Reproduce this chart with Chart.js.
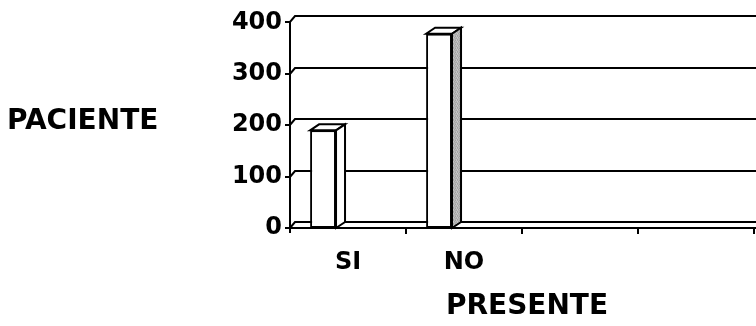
<!DOCTYPE html>
<html>
<head>
<meta charset="utf-8">
<script src="https://cdn.jsdelivr.net/npm/chart.js@4/dist/chart.umd.min.js"></script>
<style>
  html, body { margin: 0; padding: 0; background: #ffffff; }
  #wrap { width: 756px; height: 326px; position: relative; }
</style>
</head>
<body>
<div id="wrap"><canvas id="c" width="756" height="326"></canvas></div>
<script>
// Categories along the floor, the patient counts and the value axis ticks
const categories = ['SI', 'NO', '', ''];
const pacientes = [190, 378, null, null];
const serieVacia = [null, null, null, null];
const yTicks = [0, 100, 200, 300, 400];
const yTitle = 'PACIENTE';
const xTitle = 'PRESENTE';

const FONT = '"DejaVu Sans", "Liberation Sans", Arial, sans-serif';
const INK = '#000000';

// Light grey stipple used on the shaded side of a column
function stipple() {
  const c = document.createElement('canvas');
  c.width = 4; c.height = 4;
  const g = c.getContext('2d');
  const tones = ['#c4c4c4', '#a9a9a9', '#bcbcbc', '#9f9f9f',
                 '#b2b2b2', '#cacaca', '#a4a4a4', '#bdbdbd',
                 '#a7a7a7', '#c0c0c0', '#b6b6b6', '#adadad',
                 '#c6c6c6', '#a2a2a2', '#bababa', '#b0b0b0'];
  tones.forEach((t, i) => { g.fillStyle = t; g.fillRect(i % 4, Math.floor(i / 4), 1, 1); });
  return g.createPattern(c, 'repeat');
}

// Depth of the back wall and of the columns
const WALL_DX = 5, WALL_DY = -6;
const BAR_DX = 9, BAR_DY = -6;

const box3d = {
  id: 'box3d',
  beforeDatasetsDraw(chart) {
    const ctx = chart.ctx;
    const y = chart.scales.y, x = chart.scales.x;
    const L = x.left, R = chart.width;
    ctx.save();
    ctx.strokeStyle = INK;
    ctx.lineWidth = 2;
    ctx.lineCap = 'butt';
    // back-wall gridlines with their slanted joins to the axis
    yTicks.forEach(v => {
      const py = Math.round(y.getPixelForValue(v));
      ctx.beginPath();
      ctx.moveTo(L - 5, py);
      ctx.lineTo(L, py);
      ctx.lineTo(L + WALL_DX, py + WALL_DY);
      ctx.lineTo(R, py + WALL_DY);
      ctx.stroke();
    });
    // front edge of the floor
    const p0 = Math.round(y.getPixelForValue(0));
    ctx.beginPath();
    ctx.moveTo(L, p0);
    ctx.lineTo(R, p0);
    ctx.stroke();
    // value axis
    ctx.beginPath();
    ctx.moveTo(L, Math.round(y.getPixelForValue(yTicks[yTicks.length - 1])));
    ctx.lineTo(L, p0 + 5);
    ctx.stroke();
    // category boundary ticks
    const n = categories.length;
    const step = (x.right - x.left) / n;
    for (let i = 1; i <= n; i++) {
      const px = Math.round(x.left + i * step);
      ctx.beginPath();
      ctx.moveTo(px, p0);
      ctx.lineTo(px, p0 + 6);
      ctx.stroke();
    }
    ctx.restore();
  },
  afterDatasetsDraw(chart) {
    const ctx = chart.ctx;
    const meta = chart.getDatasetMeta(0);
    const sides = ['#ffffff', stipple(), '#ffffff', '#ffffff'];
    ctx.save();
    ctx.strokeStyle = INK;
    ctx.lineWidth = 2;
    ctx.lineJoin = 'miter';
    meta.data.forEach((bar, i) => {
      if (pacientes[i] == null) return;
      const p = bar.getProps(['x', 'y', 'base', 'width'], true);
      const l = p.x - p.width / 2, r = p.x + p.width / 2;
      const t = p.y, b = p.base;
      // top face
      ctx.beginPath();
      ctx.moveTo(l, t);
      ctx.lineTo(l + BAR_DX, t + BAR_DY);
      ctx.lineTo(r + BAR_DX, t + BAR_DY);
      ctx.lineTo(r, t);
      ctx.closePath();
      ctx.fillStyle = '#ffffff';
      ctx.fill();
      ctx.stroke();
      // side face
      ctx.beginPath();
      ctx.moveTo(r, t);
      ctx.lineTo(r + BAR_DX, t + BAR_DY);
      ctx.lineTo(r + BAR_DX, b + BAR_DY);
      ctx.lineTo(r, b);
      ctx.closePath();
      ctx.fillStyle = sides[i];
      ctx.fill();
      ctx.stroke();
    });
    ctx.restore();
  },
  afterDraw(chart) {
    const ctx = chart.ctx;
    const x = chart.scales.x;
    ctx.save();
    ctx.fillStyle = INK;
    ctx.font = 'bold 28px ' + FONT;
    ctx.textBaseline = 'alphabetic';
    ctx.textAlign = 'left';
    ctx.fillText(yTitle, 7, 129);
    ctx.textAlign = 'center';
    ctx.fillText(xTitle, (x.left + x.right) / 2 + 5, 314);
    ctx.restore();
  }
};

new Chart(document.getElementById('c'), {
  type: 'bar',
  data: {
    labels: categories,
    datasets: [
      {
        label: yTitle,
        data: pacientes,
        backgroundColor: '#ffffff',
        borderColor: INK,
        borderWidth: 2,
        borderSkipped: false,
        categoryPercentage: 0.86,
        barPercentage: 0.52
      },
      {
        label: '',
        data: serieVacia,
        backgroundColor: '#ffffff',
        categoryPercentage: 0.86,
        barPercentage: 0.52
      }
    ]
  },
  options: {
    responsive: false,
    animation: false,
    devicePixelRatio: 1,
    layout: { padding: { top: 20, right: 2, left: 0, bottom: 0 } },
    plugins: { legend: { display: false }, tooltip: { enabled: false }, title: { display: false } },
    scales: {
      x: {
        grid: { display: false, drawTicks: false },
        border: { display: false },
        ticks: {
          color: INK,
          font: { family: FONT, size: 24, weight: 'bold' },
          padding: 20,
          maxRotation: 0,
          autoSkip: false
        },
        afterFit(scale) { scale.height = 98; }
      },
      y: {
        min: 0,
        max: 400,
        grid: { display: false, drawTicks: false },
        border: { display: false },
        ticks: {
          color: INK,
          font: { family: FONT, size: 24, weight: 'bold' },
          padding: 8
        },
        afterBuildTicks(scale) { scale.ticks = yTicks.map(v => ({ value: v })); },
        afterFit(scale) { scale.width = 290; }
      }
    }
  },
  plugins: [box3d]
});
</script>
</body>
</html>
